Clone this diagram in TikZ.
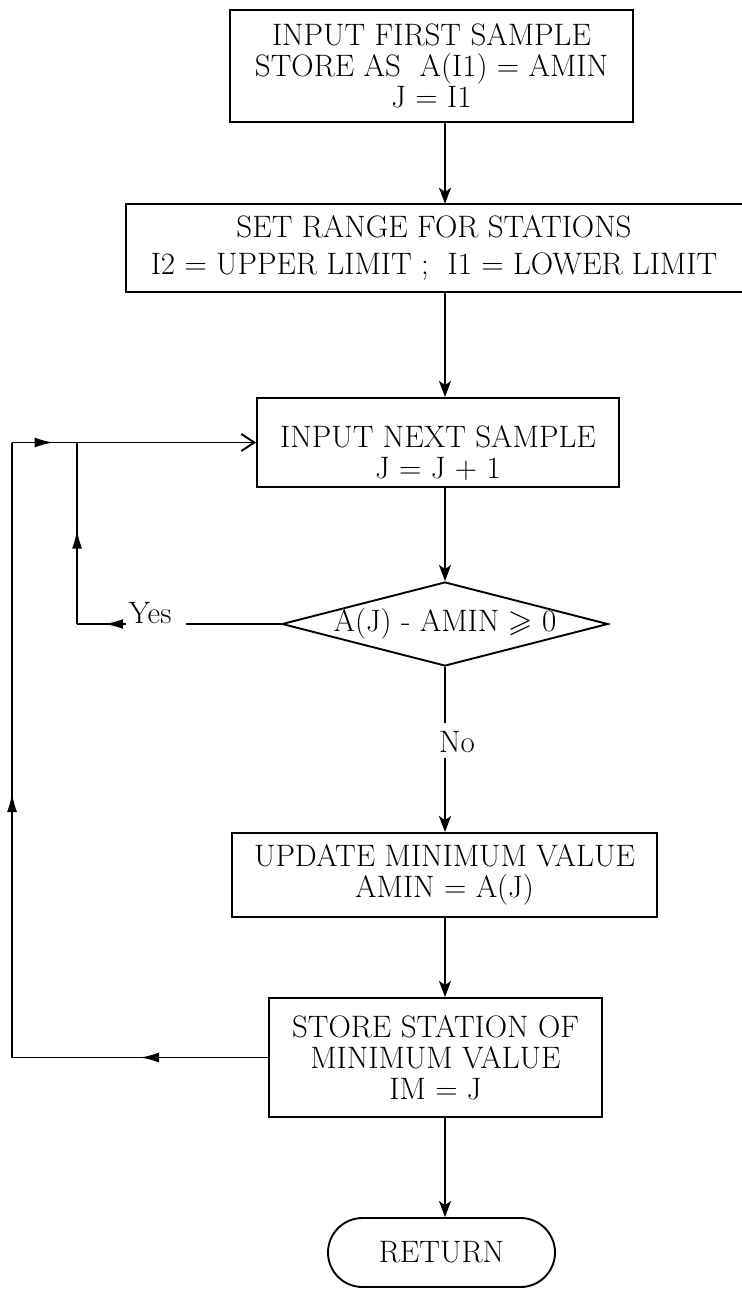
\documentclass[tikz,border=0pt]{standalone}
\usepackage{unicode-math}
\usetikzlibrary{shapes.geometric,shapes.misc,arrows.meta,decorations.markings}
\begin{document}
\begin{tikzpicture}[x=1pt,y=-1pt,
  every node/.style={font=\fontsize{31}{31}\selectfont},
  line/.style={line width=1.9pt},
  box/.style={draw,line width=1.9pt,align=center,inner sep=0pt},
  arr/.style={line width=1.9pt,-{Stealth[length=16pt,width=12pt,inset=4pt]}},
  midarr/.style={postaction={decorate},decoration={markings,mark=at position #1 with {\arrow{Latex[length=19pt,width=10pt]}}}},
  barb/.style={-{Straight Barb[length=13pt,width=17pt,line width=1.9pt]}}
]
\useasboundingbox (0,0) rectangle (741,1289);
\fill[white] (0,0) rectangle (741,1289);
\coordinate (ax) at (445,0);

% boxes
\node[box, minimum width=403pt, minimum height=112pt] (b1) at (431.5,66)
  {INPUT FIRST SAMPLE\\STORE AS\ \ A(I1) = AMIN\\J = I1};
\node[align=center, inner sep=0pt, minimum width=616pt, minimum height=88pt] (b2) at (434,248)
  {SET RANGE FOR STATIONS\\[6pt]I2 = UPPER LIMIT\ ;\ \ I1 = LOWER LIMIT};
\draw[line] (b2.north east) -- (b2.north west) -- (b2.south west) -- (b2.south east);
\node[box, minimum width=362pt, minimum height=89pt] (b3) at (438,442.5)
  {\rule{0pt}{42pt}INPUT NEXT SAMPLE\\J = J + 1};
\node[draw, line width=1.9pt, diamond, aspect=3.88, inner xsep=-23pt, inner ysep=0pt,
      minimum width=326pt, minimum height=84pt] (d) at (445,624)
  {A(J) - AMIN $\geqslant$ 0};
\node[box, minimum width=425pt, minimum height=84pt] (b4) at (444.5,875)
  {UPDATE MINIMUM VALUE\\AMIN = A(J)};
\node[box, minimum width=333pt, minimum height=119pt] (b5) at (435.5,1057.5)
  {STORE STATION OF\\MINIMUM VALUE\\IM = J};
\node[draw, line width=1.9pt, rounded rectangle, inner sep=0pt,
      minimum width=227pt, minimum height=69pt] (term) at (441.5,1252.5) {RETURN};

% labels
\node[anchor=base west, inner sep=0pt] (no) at (439,752) {No};
\node[anchor=base, inner sep=0pt] (yes) at (150,623) {Yes};

% main flow
\draw[arr] (b1.south -| ax) -- (b2.north -| ax);
\draw[arr] (b2.south -| ax) -- (b3.north -| ax);
\draw[arr] (b3.south -| ax) -- (d.north);
\coordinate (noT) at ([yshift=8pt]no.north);
\coordinate (noB) at ([yshift=-6pt]no.south);
\draw[line] (d.south) -- (noT -| d.south);
\draw[arr] (noB -| d.south) -- (b4.north -| d.south);
\draw[arr] (b4.south -| ax) -- (b5.north -| ax);
\draw[arr] (b5.south -| ax) -- (term.north -| ax);

% Yes loop
\path (d.west) ++(-204,0) coordinate (yc);
\path (b3.west) ++(-179,0) coordinate (yt);
\coordinate (yesE) at ([xshift=14pt]yes.east);
\coordinate (yesW) at ([xshift=-2pt]yes.west);
\draw[line] (d.west) -- (yesE |- d.west);
\draw[line, midarr=0.45] (yesW |- d.west) -- (yc);
\draw[line, midarr=0.52] (yc) -- (yt);

% return loop
\path (b5.west) ++(-256,0) coordinate (lb);
\path (b3.west) ++(-244,0) coordinate (lt);
\draw[line, midarr=0.5] (b5.west) -- (lb);
\draw[line, midarr=0.43] (lb) -- (lt);
\draw[line, midarr=0.17, barb] (lt) -- (b3.west);
\end{tikzpicture}
\end{document}
